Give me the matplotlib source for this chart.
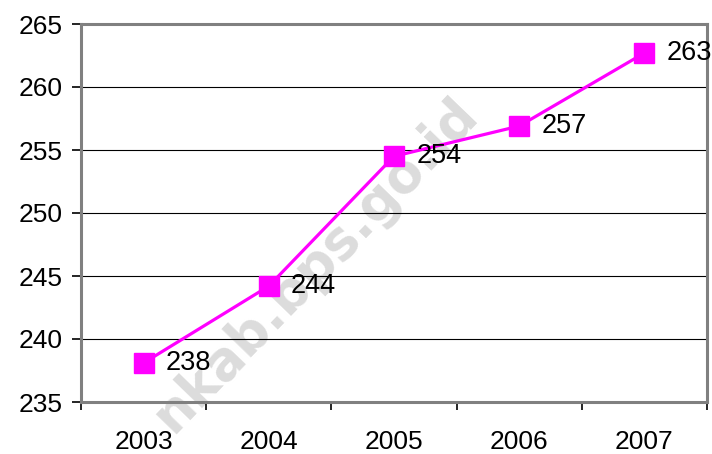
import matplotlib.pyplot as plt

plt.rcParams['font.family'] = ['Liberation Sans', 'DejaVu Sans']

# data
years = ['2003', '2004', '2005', '2006', '2007']
values = [238.1, 244.2, 254.5, 256.9, 262.7]
labels = ['238', '244', '254', '257', '263']
y_ticks = [235, 240, 245, 250, 255, 260, 265]

fig = plt.figure(figsize=(7.12, 4.54), dpi=100)
ax = fig.add_axes([81 / 712, 52 / 454, 626 / 712, 378 / 454])
ax.patch.set_alpha(0)

x = range(len(years))
ax.plot(x, values, color='#ff00ff', linewidth=2.3, marker='s', markersize=14,
        markeredgecolor='#ff00ff', markerfacecolor='#ff00ff', zorder=3)

for xi, v, lab in zip(x, values, labels):
    ax.annotate(lab, (xi, v), xytext=(16, 0), textcoords='offset points',
                ha='left', va='center', fontsize=19.5, color='black', zorder=4)

ax.set_xlim(-0.5, len(years) - 0.5)
ax.set_ylim(235, 265)
ax.set_yticks(y_ticks)
ax.set_yticklabels([str(t) for t in y_ticks], fontsize=19)
ax.set_xticks(x)
ax.set_xticklabels(years, fontsize=19)
ax.set_xticks([i - 0.5 for i in range(len(years) + 1)], minor=True)

ax.tick_params(axis='x', which='major', length=0, pad=20)
ax.tick_params(axis='x', which='minor', length=6, width=1.2, color='black', direction='out')
ax.tick_params(axis='y', length=6.5, width=1.2, color='black', direction='out', pad=7)

ax.yaxis.grid(True, color='black', linewidth=0.8)
ax.set_axisbelow(True)

for side in ['left', 'bottom', 'top', 'right']:
    ax.spines[side].set_color('#808080')
    ax.spines[side].set_linewidth(2.2)

# faint watermark behind everything
fig.text(316 / 712, 1 - 265 / 454, 'nkab.bps.go.id', rotation=46,
         ha='center', va='center', rotation_mode='anchor', fontsize=38,
         fontweight='bold', family='DejaVu Sans', color='#dcdcdc', zorder=-1)

fig.savefig('out.png', dpi=100)
